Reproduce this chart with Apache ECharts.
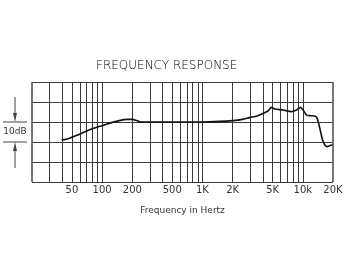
<!DOCTYPE html>
<html>
<head>
<meta charset="utf-8">
<script src="https://cdn.jsdelivr.net/npm/echarts@6/dist/echarts.min.js"></script>
<style>html,body{margin:0;padding:0;background:#fff}#c{width:360px;height:270px}</style>
</head>
<body>
<div id="c"></div>
<script>
// Data (frequency in Hz, level in dB relative to 1 kHz)
const freqs = [39.5, 46.8, 58.9, 74, 93, 117, 148, 179, 201, 221, 244, 372, 600, 1000, 1500, 2000, 2500, 2950, 3500, 4010, 4500, 4860, 5250, 6350, 7710, 8650, 9480, 10070, 10890, 11560, 13180, 13900, 14790, 15740, 16600, 17500, 18620, 19800];
const levels = [-9, -8.2, -6.2, -4, -2.3, -0.7, 0.7, 1.3, 1.3, 0.7, 0, 0, 0, 0, 0.3, 0.7, 1.3, 2.2, 3, 4.3, 5.5, 7.3, 6.5, 6, 5.2, 6, 7.3, 6, 3.5, 3.2, 3, 1.8, -3.2, -9, -11.5, -12.3, -11.8, -11.5];
// vertical grid frequencies
const gridFreqs = [20,30,40,50,60,70,80,90,100,200,300,400,500,600,700,800,900,1000,2000,3000,4000,5000,6000,7000,8000,9000,10000,20000];
// tick labels
const tickFreqs = [50,100,200,500,1000,2000,5000,10000,20000];
const tickLabels = ['50','100','200','500','1K','2K','5K','10k','20K'];

const lineCol = '#3a3a3a';
const chart = echarts.init(document.getElementById('c'), null, {renderer:'canvas'});

const mlData = gridFreqs.map(f => {
  const i = tickFreqs.indexOf(f);
  const border = (f === 20 || f === 20000);
  return {
    xAxis: f,
    lineStyle: {type: 'solid', width: border ? 1.6 : 1, color: border ? '#555' : lineCol},
    label: i >= 0 ? {show: true, formatter: tickLabels[i]} : {show: false}
  };
});

chart.setOption({
  animation: false,
  title: {
    text: 'FREQUENCY RESPONSE',
    left: 91, top: 55,
    textStyle: {fontFamily: 'DejaVu Sans', fontSize: 12, fontWeight: 200, color: '#000'}
  },
  grid: {left: 32, right: 27, top: 82, bottom: 88},
  xAxis: {
    type: 'log', logBase: 10, min: 20, max: 20000,
    axisLine: {show: false}, axisTick: {show: false}, axisLabel: {show: false},
    splitLine: {show: false},
    name: 'Frequency in Hertz', nameLocation: 'middle', nameGap: 24,
    nameTextStyle: {fontFamily: 'DejaVu Sans', fontSize: 9, color: '#333'}
  },
  yAxis: {
    type: 'value', min: -30, max: 20, interval: 10,
    axisLine: {show: false}, axisTick: {show: false}, axisLabel: {show: false},
    splitLine: {show: true, lineStyle: {type: 'solid', color: lineCol, width: 1}}
  },
  series: [{
    type: 'line',
    data: freqs.map((f, i) => [f, levels[i]]),
    showSymbol: false,
    smooth: 0.25,
    lineStyle: {color: '#111', width: 1.6},
    markLine: {
      silent: true, symbol: 'none', animation: false,
      lineStyle: {type: 'solid'},
      label: {position: 'start', distance: 3, fontFamily: 'DejaVu Sans', fontSize: 10, color: '#333'},
      data: mlData
    },
    z: 5
  }]
});

// left "10dB" annotation, placed from the y scale
const y0 = chart.convertToPixel({yAxisIndex: 0}, 0);
const y1 = chart.convertToPixel({yAxisIndex: 0}, -10);
const ax = 15;
const st = {stroke: '#444', lineWidth: 1};
chart.setOption({
  graphic: [
    {type: 'line', shape: {x1: 3, y1: y0, x2: 27, y2: y0}, style: st},
    {type: 'line', shape: {x1: 3, y1: y1, x2: 27, y2: y1}, style: st},
    {type: 'line', shape: {x1: ax, y1: y0 - 25, x2: ax, y2: y0 - 4}, style: st},
    {type: 'polygon', shape: {points: [[ax - 2, y0 - 9], [ax + 2, y0 - 9], [ax, y0]]}, style: {fill: '#444'}},
    {type: 'line', shape: {x1: ax, y1: y1 + 4, x2: ax, y2: y1 + 26}, style: st},
    {type: 'polygon', shape: {points: [[ax - 2, y1 + 9], [ax + 2, y1 + 9], [ax, y1]]}, style: {fill: '#444'}},
    {type: 'text', x: ax, y: (y0 + y1) / 2, style: {text: '10dB', fontFamily: 'DejaVu Sans', fontSize: 9, fill: '#333', align: 'center', verticalAlign: 'middle'}}
  ]
});
</script>
</body>
</html>
